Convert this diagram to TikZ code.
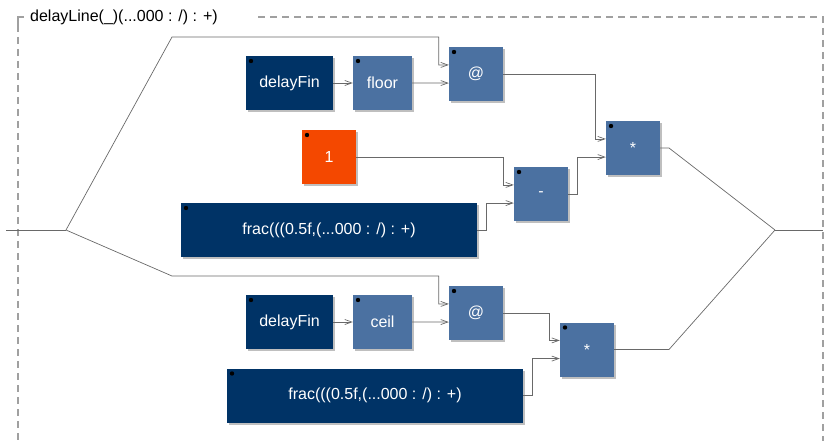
\documentclass[tikz,border=0pt]{standalone}
\usepackage{fontspec}
\setmainfont{Liberation Sans}
\definecolor{fdark}{RGB}{0,51,102}
\definecolor{fblue}{RGB}{75,113,161}
\definecolor{forange}{RGB}{244,72,0}
\definecolor{fwire}{RGB}{105,105,105}
\definecolor{fframe}{RGB}{160,160,160}
\usetikzlibrary{arrows.meta,calc,shadows}

\tikzset{
  blk/.style={minimum height=54pt, inner sep=0pt, text=white,
    font=\fontsize{16}{19}\selectfont,
    drop shadow={shadow xshift=2pt, shadow yshift=-2pt, fill=black, opacity=0.25},
    path picture={\fill[black] ([xshift=5pt,yshift=-5pt]path picture bounding box.north west) circle (2.2pt);}},
  wire/.style={draw=fwire, line width=0.7pt},
  arr/.style={-{Straight Barb[length=7pt,width=5pt]}},
  frame/.style={draw=fframe, line width=1.1pt, dash pattern=on 7pt off 5pt},
}

\begin{document}
\begin{tikzpicture}[x=1pt, y=-1pt]
  \path[use as bounding box, clip] (0,0) rectangle (824,441);

  %% group outline and title
  \draw[fframe, line width=1.1pt] (24,17) -- (18,17) -- (18,25);
  \draw[frame] (18,25) -- (18,441);
  \draw[frame] (258,17) -- (823,17) -- (823,441);
  \node[anchor=west, inner sep=0pt, font=\fontsize{16}{19}\selectfont] (title) at (30,17) {delayLine(\_)(...000 : /) : +)};

  %% upper branch
  \node[blk, fill=fdark, minimum width=87pt]  (delayFinA) at (289.5,83) {delayFin};
  \node[blk, fill=fblue, minimum width=59pt]  (floorA)    at (382.5,83) {floor};
  \node[blk, fill=fblue, minimum width=54pt]  (atA)       at (476,74)   {@};
  \node[blk, fill=fblue, minimum width=54pt]  (mulA)      at (633,148)  {*};
  \node[blk, fill=forange, minimum width=54pt] (one)      at (329,157)  {1};
  \node[blk, fill=fblue, minimum width=54pt]  (sub)       at (541,194)  {-};
  \node[blk, fill=fdark, minimum width=296pt] (fracA)     at (329,230)  {frac(((0.5f,(...000 : /) : +)};

  %% lower branch
  \node[blk, fill=fdark, minimum width=87pt]  (delayFinB) at (289.5,322) {delayFin};
  \node[blk, fill=fblue, minimum width=59pt]  (ceilB)     at (382.5,322) {ceil};
  \node[blk, fill=fblue, minimum width=54pt]  (atB)       at (476,313)   {@};
  \node[blk, fill=fblue, minimum width=54pt]  (mulB)      at (587,349.5) {*};
  \node[blk, fill=fdark, minimum width=296pt] (fracB)     at (375,395.5) {frac(((0.5f,(...000 : /) : +)};

  %% input ports of the two-input boxes
  \coordinate (atA1)  at ($(atA.north west)!1/3!(atA.south west)$);
  \coordinate (atA2)  at ($(atA.north west)!2/3!(atA.south west)$);
  \coordinate (atB1)  at ($(atB.north west)!1/3!(atB.south west)$);
  \coordinate (atB2)  at ($(atB.north west)!2/3!(atB.south west)$);
  \coordinate (sub1)  at ($(sub.north west)!1/3!(sub.south west)$);
  \coordinate (sub2)  at ($(sub.north west)!2/3!(sub.south west)$);
  \coordinate (mulA1) at ($(mulA.north west)!1/3!(mulA.south west)$);
  \coordinate (mulA2) at ($(mulA.north west)!2/3!(mulA.south west)$);
  \coordinate (mulB1) at ($(mulB.north west)!1/3!(mulB.south west)$);
  \coordinate (mulB2) at ($(mulB.north west)!2/3!(mulB.south west)$);

  %% split and merge points
  \coordinate (in)    at (6,230);
  \coordinate (split) at (66,230);
  \coordinate (upA)   at (172,37);
  \coordinate (upB)   at (172,276);
  \coordinate (kneeA) at (669,148);
  \coordinate (kneeB) at (669,349.5);
  \coordinate (join)  at (775,230);
  \coordinate (out)   at (823,230);

  %% wires
  \draw[wire] (in) -- (split);
  \draw[wire, arr] (split) -- (upA) -| ([xshift=-10pt]atA1) -- (atA1);
  \draw[wire, arr] (split) -- (upB) -| ([xshift=-10pt]atB1) -- (atB1);
  \draw[wire, arr] (delayFinA) -- (floorA);
  \draw[wire, arr] (floorA.east) -- (atA2);
  \draw[wire, arr] (delayFinB) -- (ceilB);
  \draw[wire, arr] (ceilB.east) -- (atB2);
  \draw[wire, arr] (atA.east) -| ([xshift=-10pt]mulA1) -- (mulA1);
  \draw[wire, arr] (one.east) -| ([xshift=-10pt]sub1) -- (sub1);
  \draw[wire, arr] (fracA.east) -- ++(9pt,0) |- (sub2);
  \draw[wire, arr] (sub.east) -- ++(9pt,0) |- (mulA2);
  \draw[wire, arr] (atB.east) -| ([xshift=-10pt]mulB1) -- (mulB1);
  \draw[wire, arr] (fracB.east) -- ++(9pt,0) |- (mulB2);
  \draw[wire] (mulA.east) -- (kneeA) -- (join);
  \draw[wire] (mulB.east) -- (kneeB) -- (join);
  \draw[wire] (join) -- (out);
\end{tikzpicture}
\end{document}
